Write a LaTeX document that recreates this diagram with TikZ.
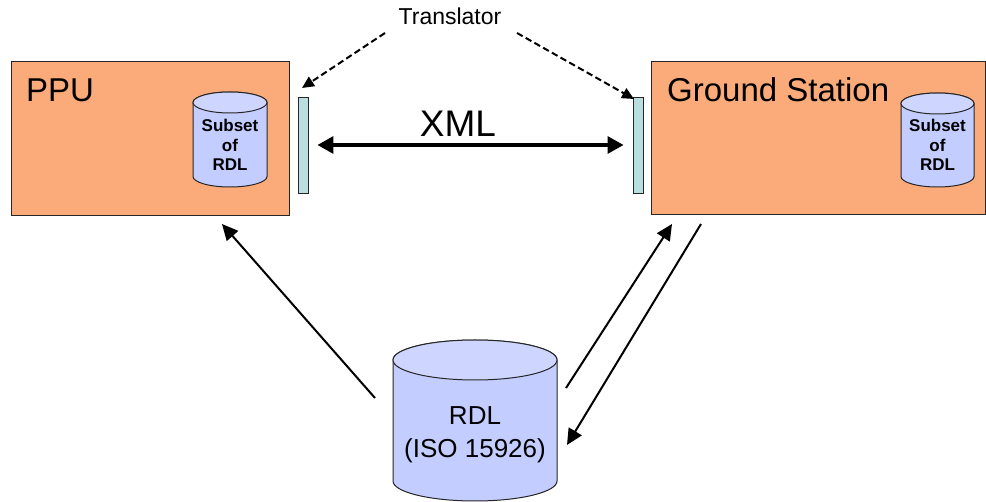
\documentclass[tikz,border=0pt]{standalone}
\usepackage{fontspec}
\setmainfont{Liberation Sans}
\usetikzlibrary{arrows.meta}

\definecolor{unitfill}{RGB}{251,170,122}
\definecolor{dbbody}{RGB}{196,205,255}
\definecolor{dbtop}{RGB}{206,214,255}
\definecolor{barfill}{RGB}{184,222,224}

\tikzset{
  unitbox/.style={draw=black!85, line width=1pt, fill=unitfill},
  barbox/.style={draw=black!85, line width=0.9pt, fill=barfill},
  cylbody/.style={draw=black!85, line width=1pt, fill=dbbody},
  cyltop/.style={draw=black!85, line width=1pt, fill=dbtop},
  flow/.style={line width=2pt, -{Triangle[length=16pt,width=15pt]}},
  xmlflow/.style={line width=3.2pt, {Triangle[length=16pt,width=17pt]}-{Triangle[length=16pt,width=17pt]}},
  pointer/.style={line width=2pt, dash pattern=on 6.5pt off 3.5pt, -{Triangle[length=12pt,width=11pt]}},
  title/.style={font=\fontsize{33}{38}\selectfont, anchor=base west, inner sep=0},
  dblabel/.style={font=\bfseries\fontsize{17}{19.5}\selectfont, align=center, inner sep=0},
}

% database cylinder: #1 name, #2 left, #3 top, #4 right, #5 bottom, #6 half height of the end ellipse
\newcommand{\dbcyl}[6]{%
  \pgfmathsetmacro\dbcx{(#2+#4)/2}%
  \pgfmathsetmacro\dbrx{(#4-#2)/2}%
  \filldraw[cylbody] (#2,{#3+#6}) -- (#2,{#5-#6})
     arc[start angle=180,end angle=360,x radius=\dbrx pt,y radius=#6pt]
     -- (#4,{#3+#6})
     arc[start angle=0,end angle=180,x radius=\dbrx pt,y radius=#6pt] -- cycle;
  \filldraw[cyltop] (\dbcx,{#3+#6}) ellipse[x radius=\dbrx pt,y radius=#6pt];
  \node[inner sep=0, minimum width={(#4-#2)*1pt}, minimum height={(#5-#3)*1pt}] (#1) at (\dbcx,{(#3+#5)/2}) {};
}

\begin{document}
\begin{tikzpicture}[x=1pt,y=-1pt]
\useasboundingbox (0,0) rectangle (986,502);

% the two units
\node[unitbox, minimum width=278pt, minimum height=154pt, inner sep=0] (ppu) at (150,139) {};
\node[unitbox, minimum width=334pt, minimum height=153pt, inner sep=0] (gs) at (818.5,138.5) {};
\node[title] (ppulabel) at (26,102) {PPU};
\node[title] (gslabel) at (667,102) {Ground Station};

% local subsets of the library
\dbcyl{ppudb}{193}{92}{267}{187}{10.5}
\node[dblabel] (ppudbtext) at (230,145) {Subset\\of\\RDL};
\dbcyl{gsdb}{901}{93}{974}{187}{10.5}
\node[dblabel] (gsdbtext) at (937.5,145) {Subset\\of\\RDL};

% translators
\node[barbox, minimum width=10pt, minimum height=96pt, inner sep=0] (trl) at (303,145) {};
\node[barbox, minimum width=10pt, minimum height=96pt, inner sep=0] (trr) at (638,145) {};
\node[font=\fontsize{23}{27}\selectfont, anchor=base, inner sep=0] (trlabel) at (450,25) {Translator};
\coordinate (trfromL) at (385,33);
\coordinate (trfromR) at (517,33);
\coordinate (trtipL) at (302,88);
\coordinate (trtipR) at (634,99);
\draw[pointer] (trfromL) -- (trtipL);
\draw[pointer] (trfromR) -- (trtipR);

% XML exchange
\node[font=\fontsize{37}{42}\selectfont, anchor=base, inner sep=0] (xml) at (458,137) {XML};
\draw[xmlflow] ([xshift=9pt]trl.east) -- ([xshift=-9pt]trr.west);

% reference data library
\dbcyl{rdl}{393}{340}{557}{501}{20}
\node[font=\fontsize{26}{33}\selectfont, align=center, inner sep=0] (rdltext) at (475,435) {RDL\\(ISO 15926)};

% distribution arrows
\coordinate (a1s) at (375,398);
\coordinate (a1e) at (222,224);
\coordinate (a2s) at (566,388);
\coordinate (a2e) at (672,224);
\coordinate (a3s) at (701,224);
\coordinate (a3e) at (567,445);
\draw[flow] (a1s) -- (a1e);
\draw[flow] (a2s) -- (a2e);
\draw[flow] (a3s) -- (a3e);
\end{tikzpicture}
\end{document}
